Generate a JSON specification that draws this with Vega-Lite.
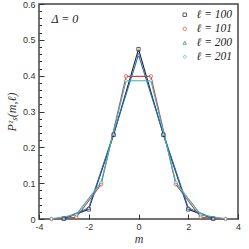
{
  "$schema": "https://vega.github.io/schema/vega-lite/v6.json",
  "width": 199,
  "height": 215,
  "autosize": "none",
  "padding": {"left": 39, "top": 4, "right": 11, "bottom": 30},
  "background": "white",
  "resolve": {"axis": {"y": "independent"}},
  "config": {
    "view": {"stroke": "#444444", "strokeWidth": 1.5},
    "axis": {
      "domain": false,
      "grid": false,
      "labelFont": "Liberation Sans",
      "labelFontSize": 9,
      "labelColor": "#333333",
      "labelOverlap": false,
      "labelFlush": false,
      "labelBound": false,
      "tickColor": "#333333",
      "tickWidth": 1,
      "titleFont": "Liberation Serif",
      "titleFontStyle": "italic",
      "titleFontWeight": "normal",
      "titleColor": "#333333",
      "titleFontSize": 12
    },
    "legend": {
      "labelFont": "Liberation Serif",
      "labelFontStyle": "italic",
      "labelFontSize": 11.5,
      "labelColor": "#222222",
      "symbolSize": 12,
      "symbolStrokeWidth": 1,
      "symbolFillColor": "white",
      "rowPadding": 1,
      "labelOffset": 6
    }
  },
  "datasets": {
    "curves": [
      {"l": "ℓ = 100", "m": -3, "p": 0.0005},
      {"l": "ℓ = 100", "m": -2, "p": 0.027},
      {"l": "ℓ = 100", "m": -1, "p": 0.235},
      {"l": "ℓ = 100", "m": 0, "p": 0.474},
      {"l": "ℓ = 100", "m": 1, "p": 0.235},
      {"l": "ℓ = 100", "m": 2, "p": 0.027},
      {"l": "ℓ = 100", "m": 3, "p": 0.0005},
      {"l": "ℓ = 101", "m": -3.5, "p": 0.0002},
      {"l": "ℓ = 101", "m": -2.5, "p": 0.005},
      {"l": "ℓ = 101", "m": -1.5, "p": 0.097},
      {"l": "ℓ = 101", "m": -0.5, "p": 0.398},
      {"l": "ℓ = 101", "m": 0.5, "p": 0.398},
      {"l": "ℓ = 101", "m": 1.5, "p": 0.097},
      {"l": "ℓ = 101", "m": 2.5, "p": 0.005},
      {"l": "ℓ = 101", "m": 3.5, "p": 0.0002},
      {"l": "ℓ = 200", "m": -3, "p": 0.002},
      {"l": "ℓ = 200", "m": -2, "p": 0.031},
      {"l": "ℓ = 200", "m": -1, "p": 0.238},
      {"l": "ℓ = 200", "m": 0, "p": 0.458},
      {"l": "ℓ = 200", "m": 1, "p": 0.238},
      {"l": "ℓ = 200", "m": 2, "p": 0.031},
      {"l": "ℓ = 200", "m": 3, "p": 0.002},
      {"l": "ℓ = 201", "m": -3.5, "p": 0.0005},
      {"l": "ℓ = 201", "m": -2.5, "p": 0.012},
      {"l": "ℓ = 201", "m": -1.5, "p": 0.102},
      {"l": "ℓ = 201", "m": -0.5, "p": 0.386},
      {"l": "ℓ = 201", "m": 0.5, "p": 0.386},
      {"l": "ℓ = 201", "m": 1.5, "p": 0.102},
      {"l": "ℓ = 201", "m": 2.5, "p": 0.012},
      {"l": "ℓ = 201", "m": 3.5, "p": 0.0005}
    ],
    "note": [{"label": "Δ = 0", "m": -3.5, "p": 0.559}]
  },
  "layer": [
    {
      "data": {"name": "curves"},
      "mark": {"type": "line", "strokeWidth": 1.1},
      "encoding": {
        "x": {
          "field": "m", "type": "quantitative",
          "scale": {"domain": [-4, 4], "nice": false},
          "axis": {
            "title": "m",
            "values": [-4, -3.5, -3, -2.5, -2, -1.5, -1, -0.5, 0, 0.5, 1, 1.5, 2, 2.5, 3, 3.5, 4],
            "format": ".0f",
            "labelExpr": "datum.value % 2 === 0 ? replace(datum.label, '−', '-') : ''",
            "labelOverlap": false,
            "tickSize": {"condition": {"test": "datum.value % 2 === 0", "value": -5}, "value": -2.5},
            "labelPadding": 8,
            "titlePadding": 2
          }
        },
        "y": {
          "field": "p", "type": "quantitative",
          "scale": {"domain": [0, 0.6], "nice": false},
          "axis": {
            "orient": "left",
            "title": "Pᶻₛ(m,ℓ)",
            "values": [0, 0.1, 0.2, 0.3, 0.4, 0.5, 0.6],
            "format": "~g",
            "labelOverlap": false,
            "tickSize": -5,
            "labelPadding": 9,
            "titlePadding": 4
          }
        },
        "color": {
          "field": "l", "type": "nominal",
          "scale": {"domain": ["ℓ = 100", "ℓ = 101", "ℓ = 200", "ℓ = 201"], "range": ["#1e1e1e", "#d0463a", "#2c6cb4", "#3ab4b8"]},
          "legend": {"title": null, "orient": "top-right", "offset": 5}
        }
      }
    },
    {
      "data": {"name": "curves"},
      "mark": {"type": "point", "filled": false, "fill": "white", "size": 12, "strokeWidth": 1},
      "encoding": {
        "x": {"field": "m", "type": "quantitative"},
        "y": {"field": "p", "type": "quantitative", "axis": null},
        "color": {"field": "l", "type": "nominal", "legend": {"title": null, "orient": "top-right", "offset": 5}},
        "shape": {
          "field": "l", "type": "nominal",
          "scale": {"domain": ["ℓ = 100", "ℓ = 101", "ℓ = 200", "ℓ = 201"], "range": ["square", "circle", "triangle-up", "diamond"]},
          "legend": {"title": null, "orient": "top-right", "offset": 5}
        }
      }
    },
    {
      "data": {"name": "note"},
      "mark": {"type": "text", "align": "left", "baseline": "middle", "font": "Liberation Serif", "fontStyle": "italic", "fontSize": 12, "color": "#222222"},
      "encoding": {
        "x": {"field": "m", "type": "quantitative"},
        "y": {
          "field": "p", "type": "quantitative",
          "axis": {
            "orient": "left",
            "title": null,
            "labels": false,
            "values": [0.02, 0.04, 0.06, 0.08, 0.12, 0.14, 0.16, 0.18, 0.22, 0.24, 0.26, 0.28, 0.32, 0.34, 0.36, 0.38, 0.42, 0.44, 0.46, 0.48, 0.52, 0.54, 0.56, 0.58],
            "tickSize": -2.5
          }
        },
        "text": {"field": "label"}
      }
    }
  ]
}
